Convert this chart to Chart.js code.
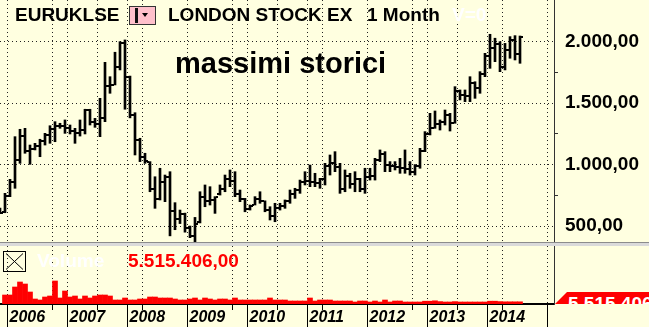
<!DOCTYPE html>
<html><head><meta charset="utf-8">
<script src="https://cdn.jsdelivr.net/npm/chart.js@4.4.1/dist/chart.umd.min.js"></script>
<style>
html,body{margin:0;padding:0;background:#FFFFE0;width:649px;height:327px;overflow:hidden;font-family:"Liberation Sans",Arial,sans-serif;}
#wrap{position:relative;width:649px;height:327px;}
canvas{position:absolute;left:0;}
#pc{top:0}
#vc{top:246px}
#sep1{position:absolute;left:0;top:242px;width:649px;height:1px;background:#8c8c8c;}
#sep2{position:absolute;left:0;top:243px;width:649px;height:3px;background:#dadada;}
.t{position:absolute;font-weight:bold;font-size:19px;line-height:19px;white-space:pre;color:#000;}
#pink{position:absolute;left:129px;top:6px;width:25px;height:17px;background:#FFC0CB;border:1px solid #333;}
#pinkbar{position:absolute;left:5px;top:1px;width:3px;height:15px;background:#111;}
#pinktri{position:absolute;left:12px;top:6px;width:0;height:0;border-left:3.5px solid transparent;border-right:3.5px solid transparent;border-top:4px solid #000;}
#tag{position:absolute;left:555px;top:292px;width:94px;height:12px;background:#FF0000;overflow:hidden;clip-path:polygon(0 100%,12px 0,100% 0,100% 100%);}
#tagtxt{position:absolute;left:13px;top:2px;color:#fff;font-weight:bold;font-size:19px;line-height:19px;white-space:pre;}
</style></head>
<body>
<div id="wrap">
<canvas id="pc" width="649" height="242"></canvas>
<div id="sep1"></div><div id="sep2"></div>
<canvas id="vc" width="649" height="81"></canvas>

<div class="t" style="left:15px;top:5px;">EURUKLSE</div>
<div id="pink"><div id="pinkbar"></div><div id="pinktri"></div></div>
<div class="t" style="left:168px;top:5px;">LONDON STOCK EX</div>
<div class="t" style="left:367px;top:5px;">1 Month</div>
<div class="t" style="left:452px;top:5px;color:#fff;">V=0</div>
<div class="t" style="left:175px;top:49px;font-size:29px;line-height:29px;">massimi storici</div>

<svg style="position:absolute;left:3px;top:251px" width="23" height="21"><rect x="0.5" y="0.5" width="22" height="20" fill="none" stroke="#000" stroke-width="1"/><line x1="3" y1="2.5" x2="20" y2="18.5" stroke="#000" stroke-width="1"/><line x1="20" y1="2.5" x2="3" y2="18.5" stroke="#000" stroke-width="1"/></svg>
<div class="t" style="left:37px;top:251px;color:#fff;">Volume</div>
<div class="t" id="vval" style="left:128px;top:251px;color:#FF0000;"></div>
<div id="tag"><div id="tagtxt"></div></div>
</div>
<script>
// ---------------- DATA ----------------
const months = [
 '2005-11','2005-12',
 '2006-01','2006-02','2006-03','2006-04','2006-05','2006-06','2006-07','2006-08','2006-09','2006-10','2006-11','2006-12',
 '2007-01','2007-02','2007-03','2007-04','2007-05','2007-06','2007-07','2007-08','2007-09','2007-10','2007-11','2007-12',
 '2008-01','2008-02','2008-03','2008-04','2008-05','2008-06','2008-07','2008-08','2008-09','2008-10','2008-11','2008-12',
 '2009-01','2009-02','2009-03','2009-04','2009-05','2009-06','2009-07','2009-08','2009-09','2009-10','2009-11','2009-12',
 '2010-01','2010-02','2010-03','2010-04','2010-05','2010-06','2010-07','2010-08','2010-09','2010-10','2010-11','2010-12',
 '2011-01','2011-02','2011-03','2011-04','2011-05','2011-06','2011-07','2011-08','2011-09','2011-10','2011-11','2011-12',
 '2012-01','2012-02','2012-03','2012-04','2012-05','2012-06','2012-07','2012-08','2012-09','2012-10','2012-11','2012-12',
 '2013-01','2013-02','2013-03','2013-04','2013-05','2013-06','2013-07','2013-08','2013-09','2013-10','2013-11','2013-12',
 '2014-01','2014-02','2014-03','2014-04','2014-05','2014-06','2014-07'
];
const openP = [
 630,612,
 745,860,1040,1230,1110,1130,1150,1190,1240,1290,1310,1315,
 1300,1270,1260,1280,1440,1350,1330,1380,1640,1650,1790,1990,
 1715,1400,1200,1060,1020,800,720,860,900,620,560,600,
 480,420,530,740,700,710,760,800,880,870,760,720,
 640,675,720,700,630,580,650,660,700,760,790,860,
 870,860,850,880,990,1010,980,800,910,840,880,800,
 900,910,1040,1090,1000,990,980,970,960,940,990,1110,
 1250,1300,1330,1350,1400,1340,1600,1570,1560,1660,1620,1740,
 1880,1950,1980,1790,1930,2010,1900
];
const highP = [
 645,766,
 880,1227,1287,1295,1159,1173,1206,1254,1316,1349,1336,1363,
 1322,1295,1363,1450,1450,1376,1539,1832,1715,1914,2000,2014,
 1720,1422,1214,1092,1024,901,970,915,942,690,630,605,
 500,570,779,834,820,739,834,915,956,942,793,725,
 671,739,779,705,657,685,685,712,793,807,874,942,
 996,929,888,1010,1078,1105,1010,956,929,942,888,970,
 970,1051,1119,1105,1024,1024,1051,1119,1024,1000,1132,1268,
 1417,1436,1363,1444,1417,1634,1607,1607,1715,1674,1756,1905,
 2060,2028,2000,1986,2041,2049,2046
];
const lowP = [
 600,608,
 739,807,1010,1092,1002,1119,1064,1159,1173,1186,1295,1254,
 1249,1173,1232,1249,1322,1303,1227,1349,1580,1648,1770,1450,
 1380,1078,1024,1010,779,644,712,698,420,470,520,450,
 405,362,525,657,671,603,752,779,820,739,698,616,
 630,671,685,616,549,535,630,644,685,725,766,834,
 820,820,807,834,915,942,766,779,807,779,779,766,
 874,874,1024,942,942,956,929,929,915,915,970,1105,
 1241,1295,1281,1322,1273,1336,1526,1512,1512,1539,1580,1715,
 1783,1837,1756,1770,1865,1851,1824
];
const closeP = [
 610,745,
 860,1040,1230,1110,1130,1150,1190,1240,1290,1310,1315,1300,
 1270,1260,1280,1440,1350,1330,1380,1640,1650,1790,1990,1715,
 1400,1200,1060,1030,800,720,860,900,620,560,600,480,
 420,520,740,700,710,735,800,880,870,760,720,640,
 660,720,700,630,580,650,660,700,760,790,860,870,
 860,850,880,990,1010,980,800,910,840,880,800,900,
 910,1040,1090,1000,990,980,970,960,940,990,1110,1250,
 1300,1330,1350,1400,1340,1600,1570,1560,1660,1620,1740,1880,
 1950,1980,1790,1930,2010,1900,2040
];
// volume in millions
const volumeM = [
 null,22.5,
 22.5,42.5,55,50,30,12.5,10,17.5,20,57.5,15,32.5,
 17.5,20,12.5,20,15,20,22.5,22.5,20,10,10,15,
 10,10,12.5,12.5,17.5,17.5,15,15,15,12.5,10,10,
 12.5,15,10,15,12.5,10,12.5,12.5,10,15,10,10,
 10,10,10,10,15,10,10,10,7.5,7.5,7.5,7.5,
 15,7.5,10,10,10,7.5,7.5,7.5,7.5,5,7.5,7.5,
 5,7.5,5,10,5,7.5,7.5,5,5,5,5,7,
 7,8,6,5,5,6,5,5,5,5,5,5,
 7,7,6,5.5,5.5,5.5,5.515406
];
const yearLabels = ['2006','2007','2008','2009','2010','2011','2012','2013','2014'];
const priceTickValues = [500,1000,1500,2000];
const priceTickLabels = ['500,00','1.000,00','1.500,00','2.000,00'];
const priceMinorTicks = [750,1250,1750];

// ---------------- HELPERS ----------------
const FONT = "'Liberation Sans', Arial, sans-serif";
function monthIndex(s){ return (parseInt(s.slice(0,4),10)-2006)*12 + parseInt(s.slice(5),10) - 1; }
const xIdx = months.map(monthIndex);
function fmtIt(v){ const s = v.toFixed(2); const p = s.split('.'); return p[0].replace(/\B(?=(\d{3})+(?!\d))/g,'.') + ',' + p[1]; }

const X_MIN = -2, X_MAX = 108.8;
const gridPos = [];
for (let u = -0.5; u <= X_MAX; u += 3) {
  const k = u + 0.5;
  if (k % 12 === 0 || k % 9 === 0) gridPos.push(u);
}
const isYearBoundary = u => ((u + 0.5) % 12 === 0);

function tickImg(side){
  const c = document.createElement('canvas'); c.width = 6; c.height = 2;
  const g = c.getContext('2d'); g.fillStyle = '#000';
  g.fillRect(side === 'open' ? 0 : 4, 0, 2, 2);
  return c;
}

Chart.defaults.font.family = FONT;

// ---------------- PRICE CHART ----------------
new Chart(document.getElementById('pc'), {
  type: 'bar',
  data: {
    datasets: [
      { type:'bar', data: xIdx.map((x,i)=>({x:x, y:[lowP[i], highP[i]]})),
        backgroundColor:'#000', borderWidth:0, barThickness:2, borderSkipped:false },
      { type:'scatter', data: xIdx.map((x,i)=>({x:x, y:openP[i]})),
        pointStyle: tickImg('open'), pointRadius:3, pointHoverRadius:3, showLine:false },
      { type:'scatter', data: xIdx.map((x,i)=>({x:x, y:closeP[i]})),
        pointStyle: tickImg('close'), pointRadius:3, pointHoverRadius:3, showLine:false }
    ]
  },
  options: {
    responsive:false, animation:false, devicePixelRatio:1, events:[],
    layout:{padding:0, autoPadding:false},
    plugins:{legend:{display:false}, tooltip:{enabled:false}},
    scales:{
      x:{ type:'linear', min:X_MIN, max:X_MAX, offset:false,
        afterBuildTicks: s => { s.ticks = gridPos.map(v=>({value:v})); },
        ticks:{display:false},
        grid:{color:'#222', lineWidth:1, drawTicks:false, offset:false},
        border:{display:false, dash:[1,3]},
        afterFit: s => { s.height = 0; s.paddingLeft = 0; s.paddingRight = 0; } },
      y:{ position:'right', min:370, max:2339,
        afterBuildTicks: s => { s.ticks = priceTickValues.concat(priceMinorTicks).sort((a,b)=>a-b).map(v=>({value:v})); },
        ticks:{ callback: v => { const i = priceTickValues.indexOf(v); return i >= 0 ? priceTickLabels[i] : ''; },
          font:{family:FONT, size:19, weight:'bold'}, color:'#000', padding:7 },
        grid:{ color: c => (priceTickValues.indexOf(c.tick.value) >= 0 ? '#222' : 'rgba(0,0,0,0)'),
          tickColor: c => (priceTickValues.indexOf(c.tick.value) >= 0 ? 'rgba(0,0,0,0)' : '#333'),
          tickLength:4, lineWidth:1 },
        border:{display:true, color:'#333', width:1, dash:[1,3]},
        afterFit: s => { s.width = 95; s.paddingTop = 0; s.paddingBottom = 0; } }
    }
  }
});

// ---------------- VOLUME CHART ----------------
const axisTicks = {
  id:'axisTicks',
  afterDraw(chart){
    const xs = chart.scales.x, ctx = chart.ctx, b = chart.chartArea.bottom;
    ctx.save(); ctx.strokeStyle = '#000'; ctx.lineWidth = 1;
    gridPos.forEach(u => {
      const px = Math.floor(xs.getPixelForValue(u)) + 0.5;
      ctx.beginPath();
      ctx.moveTo(px, b + 1);
      ctx.lineTo(px, isYearBoundary(u) ? chart.height : b + 6);
      ctx.stroke();
    });
    ctx.restore();
  }
};
new Chart(document.getElementById('vc'), {
  type:'bar',
  data:{ datasets:[{ data: xIdx.map((x,i)=>({x:x, y:volumeM[i]})),
    backgroundColor:'#FF0000', borderWidth:0, barThickness:5 }] },
  options:{
    responsive:false, animation:false, devicePixelRatio:1, events:[],
    layout:{padding:0, autoPadding:false},
    plugins:{legend:{display:false}, tooltip:{enabled:false}},
    scales:{
      x:{ type:'linear', min:X_MIN, max:X_MAX, offset:false,
        afterBuildTicks: s => { s.ticks = gridPos.map(v=>({value:v})); },
        ticks:{ autoSkip:false, maxRotation:0, minRotation:0, align:'start', labelOffset:2, padding:4,
          callback: v => { if (!isYearBoundary(v)) return ''; const k = (v+0.5)/12; return k < yearLabels.length ? yearLabels[k] : ''; },
          font:{family:FONT, size:16, weight:'bold', style:'italic'}, color:'#000' },
        grid:{color:'#222', lineWidth:1, drawTicks:false, offset:false},
        border:{display:true, color:'#000', width:2, dash:[1,3]},
        afterFit: s => { s.height = 23; s.paddingLeft = 0; s.paddingRight = 0; } },
      y:{ position:'right', min:0, max:145,
        ticks:{display:false}, grid:{display:false, drawTicks:false},
        border:{display:true, color:'#333', width:1},
        afterFit: s => { s.width = 95; s.paddingTop = 0; s.paddingBottom = 0; } }
    }
  },
  plugins:[axisTicks]
});

const lastVol = fmtIt(Math.round(volumeM[volumeM.length-1]*1e6));
document.getElementById('vval').textContent = lastVol;
document.getElementById('tagtxt').textContent = lastVol;
</script>
</body></html>
